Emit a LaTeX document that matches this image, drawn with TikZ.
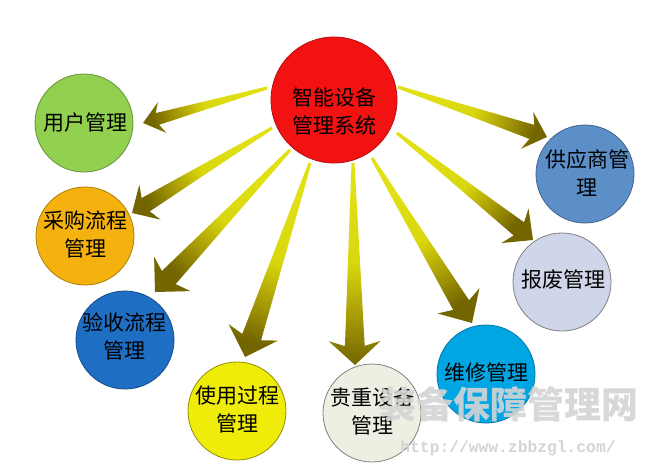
\documentclass[tikz,border=0pt]{standalone}
\usepackage{fontspec}
\newfontfamily\cjk{Noto Sans CJK SC}
\newfontfamily\wmmono{Liberation Mono}
\usetikzlibrary{calc}
\definecolor{cred}{RGB}{242,18,18}
\definecolor{cgreen}{RGB}{146,208,80}
\definecolor{corange}{RGB}{245,178,14}
\definecolor{cblue}{RGB}{30,110,195}
\definecolor{cyellow}{RGB}{240,236,10}
\definecolor{cpale}{RGB}{236,240,226}
\definecolor{ccyan}{RGB}{0,166,228}
\definecolor{csteel}{RGB}{92,142,200}
\definecolor{clav}{RGB}{208,214,234}
\definecolor{wmgray}{RGB}{212,212,212}
\pgfdeclarehorizontalshading{arrowshade}{100bp}{rgb(0bp)=(0.88,0.88,0.08); rgb(30bp)=(0.88,0.88,0.08); rgb(50bp)=(0.85,0.84,0.05); rgb(64bp)=(0.64,0.59,0.02); rgb(75bp)=(0.45,0.40,0.0); rgb(100bp)=(0.45,0.40,0.0)}
\newcommand\fatarrow[4]{%
  \path let \p1=($(#2)-(#1)$) in \pgfextra{\pgfmathsetmacro\myang{atan2(\y1,\x1)}\global\let\arrang\myang};
  \pgfmathsetlengthmacro\nw{0.38*#3pt}%
  \coordinate (#1-b) at ($(#2)!#4pt!(#1)$);
  \coordinate (#1-j) at ($(#2)!#4pt-5pt!(#1)$);
  \shade[shading=arrowshade, shading angle=\arrang]
    ($(#1)!1.5pt!90:(#2)$) -- ($(#1-j)!\nw!90:(#2)$) -- ($(#1-b)!#3pt!90:(#2)$) -- (#2)
    -- ($(#1-b)!#3pt!-90:(#2)$) -- ($(#1-j)!\nw!-90:(#2)$) -- ($(#1)!1.5pt!-90:(#2)$) -- cycle;
}
\begin{document}
\begin{tikzpicture}[x=1pt,y=-1pt,
  bub/.style={circle, minimum size=98pt, inner sep=0pt, line width=0.8pt},
  lab/.style={font=\cjk\fontsize{21}{28}\selectfont, align=center, inner sep=0pt, text=black}]
\useasboundingbox (0,0) rectangle (660,469);
\fill[white] (0,0) rectangle (660,469);
% circles
\node[bub, minimum size=126pt, fill=cred, draw=cred!75!black] (sys) at (334,100) {};
\node[bub, fill=cgreen, draw=cgreen!70!black] (user) at (84,123) {};
\node[bub, fill=corange, draw=corange!70!black] (buy) at (85,236) {};
\node[bub, fill=cblue, draw=cblue!70!black] (chk) at (125,340) {};
\node[bub, fill=cyellow, draw=cyellow!60!black] (use) at (237,411) {};
\node[bub, fill=cpale, draw=gray] (val) at (372,413) {};
\node[bub, fill=ccyan, draw=ccyan!70!black] (fix) at (486,374) {};
\node[bub, fill=csteel, draw=csteel!70!black] (sup) at (585,174) {};
\node[bub, fill=clav, draw=gray] (scr) at (562,282) {};
% labels
\node[lab] (sys-t) at (334,111) {智能设备\\管理系统};
\node[lab] (user-t) at (85,123) {用户管理};
\node[lab] (buy-t) at (85,235) {采购流程\\管理};
\node[lab] (chk-t) at (124,336) {验收流程\\管理};
\node[lab] (use-t) at (237,409) {使用过程\\管理};
\node[lab] (val-t) at (372,411) {贵重设备\\管理};
\node[lab] (fix-t) at (486,372) {维修管理};
\node[lab] (sup-t) at (587,173) {供应商管\\理};
\node[lab] (scr-t) at (563,280) {报废管理};
% arrow end points
\coordinate (s1) at (267,88);  \coordinate (t1) at (143,123);
\coordinate (s2) at (272,128); \coordinate (t2) at (132,213);
\coordinate (s3) at (290,150); \coordinate (t3) at (155,292);
\coordinate (s4) at (310,163); \coordinate (t4) at (245,357);
\coordinate (s5) at (353,163); \coordinate (t5) at (355,365);
\coordinate (s6) at (372,158); \coordinate (t6) at (472,323);
\coordinate (s7) at (397,133); \coordinate (t7) at (533,240);
\coordinate (s8) at (398,87);  \coordinate (t8) at (547,137);
\fatarrow{s1}{t1}{16}{20}
\fatarrow{s2}{t2}{20.5}{21}
\fatarrow{s3}{t3}{25}{25}
\fatarrow{s4}{t4}{26}{26}
\fatarrow{s5}{t5}{26}{24}
\fatarrow{s6}{t6}{24.5}{26}
\fatarrow{s7}{t7}{22}{23}
\fatarrow{s8}{t8}{19.5}{21}
% watermark
\node[font=\cjk\bfseries\fontsize{37}{37}\selectfont, text=wmgray, opacity=0.9, inner sep=0pt] (wm) at (509,404) {装备保障管理网};
\node[font=\wmmono\bfseries\fontsize{16.3}{16}\selectfont, text=wmgray, inner sep=0pt] (url) at (508,448) {http://www.zbbzgl.com/};
\end{tikzpicture}
\end{document}
